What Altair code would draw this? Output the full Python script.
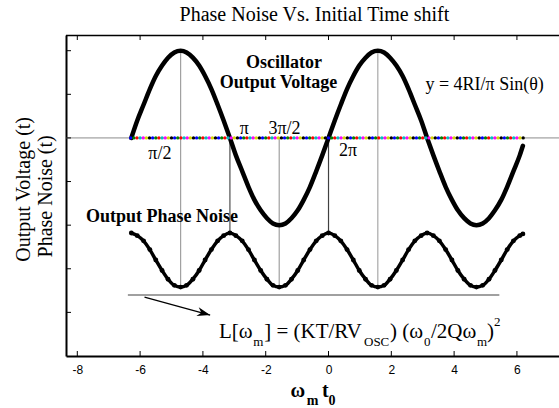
import altair as alt
import pandas as pd

# ---------------- data ----------------
theta = [-6.28, -6.09, -5.89, -5.69, -5.50, -5.30, -5.11, -4.91, -4.71, -4.52, -4.32, -4.12,
         -3.93, -3.73, -3.53, -3.34, -3.14, -2.95, -2.75, -2.55, -2.36, -2.16, -1.96, -1.77,
         -1.57, -1.37, -1.18, -0.98, -0.79, -0.59, -0.39, -0.20, 0.00, 0.20, 0.39, 0.59,
         0.79, 0.98, 1.18, 1.37, 1.57, 1.77, 1.96, 2.16, 2.36, 2.55, 2.75, 2.95,
         3.14, 3.34, 3.53, 3.73, 3.93, 4.12, 4.32, 4.52, 4.71, 4.91, 5.11, 5.30,
         5.50, 5.69, 5.89, 6.09, 6.19]
voltage = [0.00, 0.20, 0.38, 0.56, 0.71, 0.83, 0.92, 0.98, 1.00, 0.98, 0.92, 0.83,
           0.71, 0.56, 0.38, 0.20, 0.00, -0.20, -0.38, -0.56, -0.71, -0.83, -0.92, -0.98,
           -1.00, -0.98, -0.92, -0.83, -0.71, -0.56, -0.38, -0.20, 0.00, 0.20, 0.38, 0.56,
           0.71, 0.83, 0.92, 0.98, 1.00, 0.98, 0.92, 0.83, 0.71, 0.56, 0.38, 0.20,
           0.00, -0.20, -0.38, -0.56, -0.71, -0.83, -0.92, -0.98, -1.00, -0.98, -0.92, -0.83,
           -0.71, -0.56, -0.38, -0.20, -0.09]
noise = [-1.09, -1.12, -1.18, -1.28, -1.40, -1.52, -1.62, -1.69, -1.71, -1.69, -1.62, -1.52,
         -1.40, -1.28, -1.18, -1.12, -1.09, -1.12, -1.18, -1.28, -1.40, -1.52, -1.62, -1.69,
         -1.71, -1.69, -1.62, -1.52, -1.40, -1.28, -1.18, -1.12, -1.09, -1.12, -1.18, -1.28,
         -1.40, -1.52, -1.62, -1.69, -1.71, -1.69, -1.62, -1.52, -1.40, -1.28, -1.18, -1.12,
         -1.09, -1.12, -1.18, -1.28, -1.40, -1.52, -1.62, -1.69, -1.71, -1.69, -1.62, -1.52,
         -1.40, -1.28, -1.18, -1.12, -1.10]
zero_dot_x = [-6.3, -6.2, -6.1, -6.0, -5.9, -5.8, -5.7, -5.6, -5.5, -5.4, -5.3, -5.2, -5.1, -5.0,
              -4.9, -4.8, -4.7, -4.6, -4.5, -4.4, -4.3, -4.2, -4.1, -4.0, -3.9, -3.8, -3.7, -3.6,
              -3.5, -3.4, -3.3, -3.2, -3.1, -3.0, -2.9, -2.8, -2.7, -2.6, -2.5, -2.4, -2.3, -2.2,
              -2.1, -2.0, -1.9, -1.8, -1.7, -1.6, -1.5, -1.4, -1.3, -1.2, -1.1, -1.0, -0.9, -0.8,
              -0.7, -0.6, -0.5, -0.4, -0.3, -0.2, -0.1, 0.0, 0.1, 0.2, 0.3, 0.4, 0.5, 0.6,
              0.7, 0.8, 0.9, 1.0, 1.1, 1.2, 1.3, 1.4, 1.5, 1.6, 1.7, 1.8, 1.9, 2.0,
              2.1, 2.2, 2.3, 2.4, 2.5, 2.6, 2.7, 2.8, 2.9, 3.0, 3.1, 3.2, 3.3, 3.4,
              3.5, 3.6, 3.7, 3.8, 3.9, 4.0, 4.1, 4.2, 4.3, 4.4, 4.5, 4.6, 4.7, 4.8,
              4.9, 5.0, 5.1, 5.2, 5.3, 5.4, 5.5, 5.6, 5.7, 5.8, 5.9, 6.0, 6.1, 6.2]
dot_palette = ["#0000ff", "#008000", "#ff0000", "#00bfbf", "#ff00ff", "#d8d800", "#000000"]

xtick_values = [-8, -6, -4, -2, 0, 2, 4, 6]
ytick_values = [-2, -1.5, -1, -0.5, 0, 0.5, 1]

guide_x = [-4.71, -3.14, -1.57, 0.0, 1.57]
guide_top = [1.0, 0.0, 0.0, 0.0, 1.0]
guide_bottom = [-1.71, -1.09, -1.71, -1.09, -1.71]
guide_color = ["#a0a0a0", "#505050", "#a0a0a0", "#404040", "#a8a8a8"]

floor_x = [-6.39, 5.44]
floor_y = [-1.80, -1.80]
arrow_x = [-5.86, -3.77]
arrow_y = [-1.825, -2.03]

# annotation texts
bold_text = ["Oscillator", "Output Voltage", "Output Phase Noise"]
bold_x = [-1.42, -1.59, -5.30]
bold_y = [0.86, 0.63, -0.91]

plain_text = ["y = 4RI/π Sin(θ)", "π/2", "π", "3π/2", "2π"]
plain_x = [4.97, -5.37, -2.68, -1.40, 0.62]
plain_y = [0.61, -0.185, 0.108, 0.108, -0.150]

formula_text = ["L[ω", "m", "] = (KT/RV", "OSC", ") (ω", "0", "/2Qω", "m", ")", "2"]
formula_x = [-3.49, -2.40, -2.05, 1.13, 1.96, 3.04, 3.26, 4.73, 5.05, 5.27]
formula_y = [-2.22, -2.335, -2.22, -2.335, -2.22, -2.335, -2.22, -2.335, -2.22, -2.11]
formula_sub = [False, True, False, True, False, True, False, True, False, True]

xtitle_text = ["ω", "m", "t", "0"]
xtitle_x = [-1.21, -0.69, -0.21, 0.0]
xtitle_y = [-2.905, -3.015, -2.905, -3.015]
xtitle_sub = [False, True, False, True]

ytitle_text = ["Output Voltage (t)", "Phase Noise (t)"]
ytitle_x = [-9.70, -9.00]
ytitle_y = [-0.59, -0.67]

chart_title = "Phase Noise Vs. Initial Time shift"
title_x, title_y = -0.45, 1.41

# ---------------- chart ----------------
W, H = 493, 321
SERIF = "Liberation Serif"
xs = alt.Scale(domain=[-8.36, 7.34], nice=False, zero=False)
ys = alt.Scale(domain=[-2.5, 1.18], nice=False, zero=False)
xaxis = alt.Axis(values=xtick_values, ticks=False, grid=False, labelFont="Liberation Sans",
                 labelFontSize=12, labelColor="black", labelPadding=8, domainColor="black",
                 domainWidth=2, title=None, labelFlush=False,
                 labelExpr="datum.value < 0 ? '-' + abs(datum.value) : '' + datum.value")
yaxis = alt.Axis(ticks=False, labels=False, grid=False, domainColor="black", domainWidth=2,
                 title=None)


def X(f):
    return alt.X(f, type="quantitative", scale=xs, axis=xaxis)


def Y(f):
    return alt.Y(f, type="quantitative", scale=ys, axis=yaxis)


curve = pd.DataFrame({"t": theta, "v": voltage, "n": noise})
dots = pd.DataFrame({"x": zero_dot_x, "y": [0.0] * len(zero_dot_x),
                     "c": [dot_palette[i % len(dot_palette)] for i in range(len(zero_dot_x))]})

zero_rule = alt.Chart(pd.DataFrame({"y": [0.0]})).mark_rule(color="#8c8c8c", strokeWidth=1).encode(y=Y("y"))

guides = alt.Chart(pd.DataFrame({"x": guide_x, "y": guide_top, "y2": guide_bottom, "c": guide_color})).mark_rule(
    strokeWidth=1.2).encode(x=X("x"), y=Y("y"), y2="y2", color=alt.Color("c:N", scale=None))

floor = alt.Chart(pd.DataFrame({"x": floor_x, "y": floor_y})).mark_line(color="#808080", strokeWidth=1.5).encode(
    x=X("x"), y=Y("y"))

arrow = alt.Chart(pd.DataFrame({"x": arrow_x, "y": arrow_y})).mark_line(color="black", strokeWidth=1.3).encode(
    x=X("x"), y=Y("y"))
arrow_head = alt.Chart(pd.DataFrame({"x": [arrow_x[1]], "y": [arrow_y[1]]})).mark_point(
    shape="M0,0L-2,-0.7L-1.4,0L-2,0.7Z", filled=True, color="black", opacity=1, size=170, angle=15).encode(
    x=X("x"), y=Y("y"))

volt_line = alt.Chart(curve).mark_line(color="black", strokeWidth=4.5, interpolate="monotone",
                                       strokeCap="round").encode(x=X("t"), y=Y("v"))
noise_line = alt.Chart(curve).mark_line(color="black", strokeWidth=3.5, interpolate="monotone").encode(
    x=X("t"), y=Y("n"))
noise_pts = alt.Chart(curve).mark_circle(color="black", size=24, opacity=1).encode(x=X("t"), y=Y("n"))

zero_dots = alt.Chart(dots).mark_circle(size=11, opacity=1).encode(
    x=X("x"), y=Y("y"), color=alt.Color("c:N", scale=None))

ytick_df = pd.DataFrame({"v": ytick_values})
xtick_df = pd.DataFrame({"v": xtick_values})
yticks = alt.Chart(ytick_df).mark_rule(color="black", strokeWidth=1).encode(
    y=Y("v"), x=alt.value(0), x2=alt.value(5))
xticks_bottom = alt.Chart(xtick_df).mark_rule(color="black", strokeWidth=1).encode(
    x=X("v"), y=alt.value(H), y2=alt.value(H - 5))
xticks_top = alt.Chart(xtick_df).mark_rule(color="black", strokeWidth=1).encode(
    x=X("v"), y=alt.value(0), y2=alt.value(5))
top_border = alt.Chart(pd.DataFrame({"a": [0]})).mark_rule(color="black", strokeWidth=1.5).encode(
    y=alt.value(0.5))

bold_layer = alt.Chart(pd.DataFrame({"x": bold_x, "y": bold_y, "t": bold_text})).mark_text(
    font=SERIF, fontWeight="bold", fontSize=18, color="black", align="center", baseline="middle").encode(
    x=X("x"), y=Y("y"), text="t")
plain_layer = alt.Chart(pd.DataFrame({"x": plain_x, "y": plain_y, "t": plain_text})).mark_text(
    font=SERIF, fontSize=18, color="black", align="center", baseline="middle").encode(
    x=X("x"), y=Y("y"), text="t")

fdf = pd.DataFrame({"x": formula_x, "y": formula_y, "t": formula_text,
                    "s": [13 if s else 21 for s in formula_sub]})
formula_layer = alt.Chart(fdf).mark_text(font=SERIF, color="black", align="left", baseline="middle").encode(
    x=X("x"), y=Y("y"), text="t", size=alt.Size("s:Q", scale=None))

xtdf = pd.DataFrame({"x": xtitle_x, "y": xtitle_y, "t": xtitle_text,
                     "s": [14 if s else 20 for s in xtitle_sub]})
xtitle_layer = alt.Chart(xtdf).mark_text(font=SERIF, fontWeight="bold", color="black", align="left",
                                         baseline="middle").encode(
    x=X("x"), y=Y("y"), text="t", size=alt.Size("s:Q", scale=None))

ytitle_layer = alt.Chart(pd.DataFrame({"x": ytitle_x, "y": ytitle_y, "t": ytitle_text})).mark_text(
    font=SERIF, fontSize=20, color="black", align="center", baseline="middle", angle=270).encode(
    x=X("x"), y=Y("y"), text="t")

title_layer = alt.Chart(pd.DataFrame({"x": [title_x], "y": [title_y], "t": [chart_title]})).mark_text(
    font=SERIF, fontSize=20, color="black", align="center", baseline="middle").encode(
    x=X("x"), y=Y("y"), text="t")

chart = alt.layer(
    zero_rule, guides, floor, arrow, arrow_head, volt_line, noise_line, noise_pts, zero_dots,
    yticks, xticks_bottom, xticks_top, top_border,
    bold_layer, plain_layer, formula_layer, xtitle_layer, ytitle_layer, title_layer,
).properties(
    width=W, height=H,
    autosize=alt.AutoSizeParams(type="none"),
    padding={"left": 66, "top": 35, "right": 0, "bottom": 52},
    background="white",
).configure_view(stroke=None)

chart.save("out.html", embed_options={"renderer": "svg", "actions": False})
